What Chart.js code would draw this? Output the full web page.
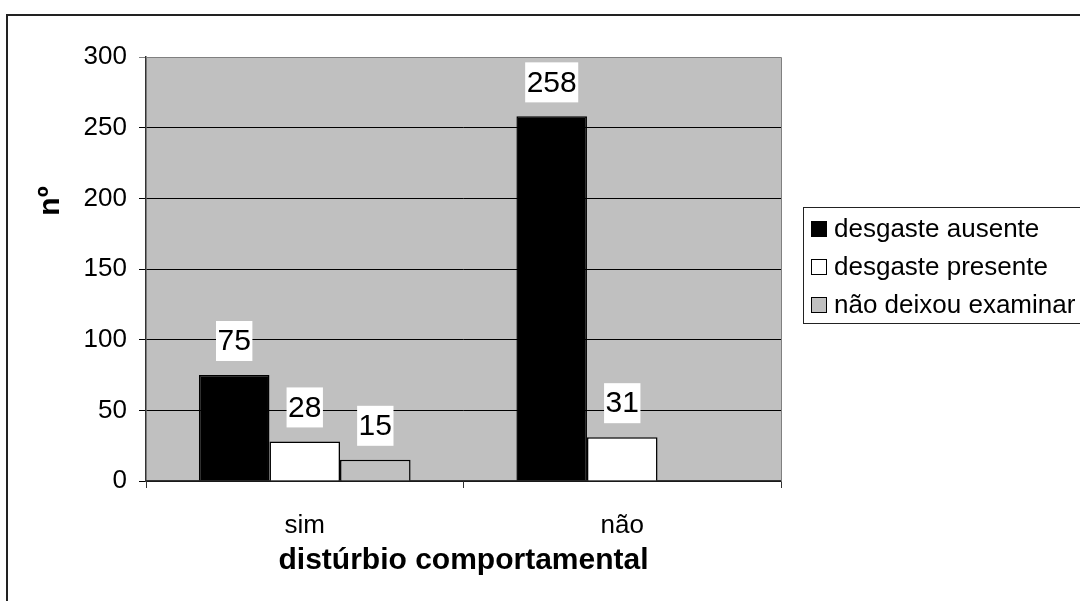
<!DOCTYPE html>
<html><head><meta charset="utf-8">
<script src="https://cdn.jsdelivr.net/npm/chart.js@4/dist/chart.umd.min.js"></script>
<style>html,body{margin:0;padding:0;background:#fff}#wrap{width:1080px;height:601px}</style>
</head><body><div id="wrap"><canvas id="c" width="1080" height="601"></canvas></div>
<script>
const categories = ['sim', 'não'];
const seriesNames = ['desgaste ausente', 'desgaste presente', 'não deixou examinar'];
const ausente = [75, 258];
const presente = [28, 31];
const naoExaminou = [15, null];
const yTicks = [0, 50, 100, 150, 200, 250, 300];
const xTitle = 'distúrbio comportamental';
const yTitle = 'nº';

const FONT = '"Liberation Sans", Arial, sans-serif';

const framePlugin = {
  id: 'frame',
  beforeDraw(chart) {
    const ctx = chart.ctx, a = chart.chartArea;
    ctx.save();
    ctx.fillStyle = '#fff';
    ctx.fillRect(0, 0, chart.width, chart.height);
    ctx.strokeStyle = '#222';
    ctx.lineWidth = 2;
    ctx.beginPath();
    ctx.moveTo(7, chart.height + 5);
    ctx.lineTo(7, 15);
    ctx.lineTo(chart.width + 5, 15);
    ctx.stroke();
    ctx.fillStyle = '#c0c0c0';
    ctx.fillRect(a.left, a.top, a.right - a.left, a.bottom - a.top);
    ctx.restore();
  },
  afterDatasetsDraw(chart) {
    const ctx = chart.ctx, a = chart.chartArea;
    ctx.save();
    ctx.strokeStyle = '#808080';
    ctx.lineWidth = 1;
    ctx.beginPath();
    ctx.moveTo(a.left, a.top + 0.5);
    ctx.lineTo(a.right + 0.5, a.top + 0.5);
    ctx.lineTo(a.right + 0.5, a.bottom);
    ctx.stroke();
    // data labels
    ctx.font = '30px ' + FONT;
    ctx.textAlign = 'center';
    ctx.textBaseline = 'middle';
    chart.data.datasets.forEach((ds, i) => {
      const meta = chart.getDatasetMeta(i);
      meta.data.forEach((el, j) => {
        const v = ds.data[j];
        if (v === null || v === undefined) return;
        const txt = String(v);
        const w = ctx.measureText(txt).width + 3;
        const h = 40;
        const bottom = el.y - 14;
        ctx.fillStyle = '#fff';
        ctx.fillRect(el.x - w / 2, bottom - h, w, h);
        ctx.fillStyle = '#000';
        ctx.fillText(txt, el.x, bottom - h / 2 + 1);
      });
    });
    ctx.restore();
  },
  afterDraw(chart) {
    const ctx = chart.ctx, a = chart.chartArea;
    ctx.save();
    // axis titles
    ctx.fillStyle = '#000';
    ctx.font = 'bold 30px ' + FONT;
    ctx.textAlign = 'center';
    ctx.textBaseline = 'middle';
    ctx.fillText(xTitle, (a.left + a.right) / 2, 561);
    ctx.save();
    ctx.translate(51, 201);
    ctx.rotate(-Math.PI / 2);
    ctx.fillText(yTitle, 0, 0);
    ctx.restore();
    // legend
    const lx = 803, ly = 207, lh = 116;
    ctx.fillStyle = '#fff';
    ctx.fillRect(lx, ly, chart.width - lx + 10, lh);
    ctx.strokeStyle = '#222';
    ctx.lineWidth = 1;
    ctx.strokeRect(lx + 0.5, ly + 0.5, chart.width - lx + 10, lh);
    ctx.font = '26px ' + FONT;
    ctx.textAlign = 'left';
    ctx.textBaseline = 'middle';
    chart.data.datasets.forEach((ds, i) => {
      const cy = 229 + i * 38;
      ctx.fillStyle = ds.backgroundColor;
      ctx.fillRect(811.5, cy - 7.5, 15, 15);
      ctx.strokeStyle = '#000';
      ctx.strokeRect(811.5, cy - 7.5, 15, 15);
      ctx.fillStyle = '#000';
      ctx.fillText(ds.label, 834, cy + 1);
    });
    ctx.restore();
  }
};

new Chart(document.getElementById('c'), {
  type: 'bar',
  data: {
    labels: categories,
    datasets: [
      { label: seriesNames[0], data: ausente, backgroundColor: '#000000', borderColor: '#000', borderWidth: 1.5 },
      { label: seriesNames[1], data: presente, backgroundColor: '#ffffff', borderColor: '#000', borderWidth: 1.5 },
      { label: seriesNames[2], data: naoExaminou, backgroundColor: '#c0c0c0', borderColor: '#000', borderWidth: 1.5 }
    ]
  },
  options: {
    responsive: false,
    animation: false,
    events: [],
    layout: { padding: { left: 0, top: 57, right: 299, bottom: 0 } },
    datasets: { bar: { categoryPercentage: 3 / 4.5, barPercentage: 1 } },
    plugins: { legend: { display: false }, tooltip: { enabled: false }, title: { display: false } },
    scales: {
      x: {
        afterFit(s) { s.height = 120; },
        grid: { display: true, drawOnChartArea: false, drawTicks: true, tickLength: 7, color: '#333', offset: true },
        border: { display: true, color: '#333', width: 1.5 },
        ticks: { color: '#000', font: { family: FONT, size: 26 }, padding: 22 }
      },
      y: {
        min: 0, max: 300,
        afterFit(s) { s.width = 146; },
        afterBuildTicks(s) { s.ticks = yTicks.map(v => ({ value: v })); },
        grid: {
          color: (c) => (c.tick && c.tick.value === 300) ? '#808080' : '#000',
          lineWidth: 1, tickLength: 7, drawTicks: true
        },
        border: { display: true, color: '#333', width: 1.5 },
        ticks: { color: '#000', font: { family: FONT, size: 26 }, padding: 12 }
      }
    }
  },
  plugins: [framePlugin]
});
</script>
</body></html>
